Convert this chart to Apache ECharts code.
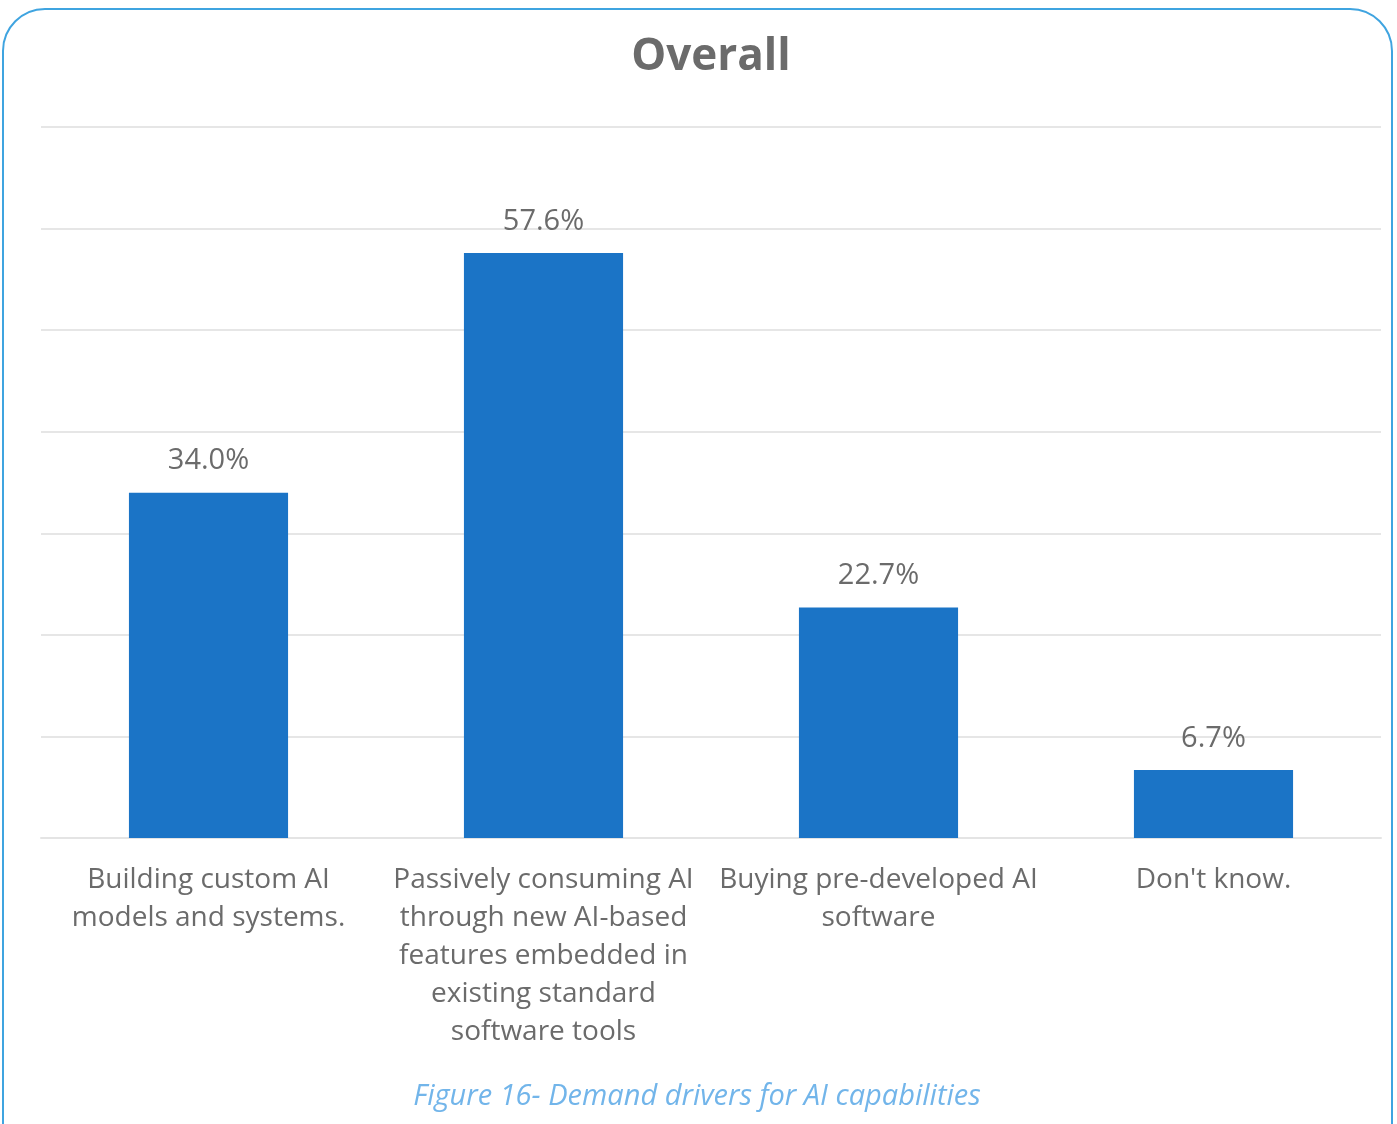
<!DOCTYPE html>
<html><head><meta charset="utf-8">
<script src="https://cdn.jsdelivr.net/npm/echarts@6/dist/echarts.min.js"></script>
<style>html,body{margin:0;padding:0;background:#fff}#c{width:1397px;height:1124px}</style>
</head><body><div id="c"></div>
<script>
const categories = [
  "Building custom AI\nmodels and systems.",
  "Passively consuming AI\nthrough new AI-based\nfeatures embedded in\nexisting standard\nsoftware tools",
  "Buying pre-developed AI\nsoftware",
  "Don't know."
];
const values = [34.0, 57.6, 22.7, 6.7];
const titleText = "Overall";
const captionText = "Figure 16- Demand drivers for AI capabilities";

const chart = echarts.init(document.getElementById('c'), null, {renderer: 'canvas'});
chart.setOption({
  backgroundColor: '#fff',
  animation: false,
  graphic: [
    {type: 'rect', shape: {x: 3, y: 9, width: 1389, height: 1160, r: 42},
     style: {fill: 'none', stroke: '#3fa4e0', lineWidth: 2}, z: 100},
    {type: 'text', x: 711, y: 57,
     style: {text: titleText, fontFamily: 'Open Sans', fontWeight: 'bold', fontSize: 44, fill: '#6b6b6b', align: 'center', verticalAlign: 'middle'}},
    {type: 'text', x: 697, y: 1097,
     style: {text: captionText, fontFamily: 'Open Sans', fontStyle: 'italic', fontSize: 29, fill: '#72b5ea', align: 'center', verticalAlign: 'middle'}}
  ],
  grid: {left: 41, right: 16, top: 127, bottom: 286, containLabel: false},
  xAxis: {
    type: 'category', data: categories,
    axisLine: {show: true, lineStyle: {color: '#e4e4e4', width: 2}},
    axisTick: {show: false},
    axisLabel: {interval: 0, margin: 23, fontFamily: 'Open Sans', fontSize: 28, lineHeight: 38, color: '#6b6b6b', align: 'center'}
  },
  yAxis: {
    type: 'value', min: 0, max: 70, interval: 10,
    axisLabel: {show: false}, axisLine: {show: false}, axisTick: {show: false},
    splitLine: {lineStyle: {color: '#e6e6e6', width: 2}}
  },
  series: [{
    type: 'bar', data: values, barWidth: '47.5%',
    itemStyle: {color: '#1b74c6'},
    label: {show: true, position: 'top', distance: 17, formatter: p => p.value.toFixed(1) + '%',
            fontFamily: 'Open Sans', fontSize: 29, color: '#6b6b6b'}
  }]
});
</script></body></html>
